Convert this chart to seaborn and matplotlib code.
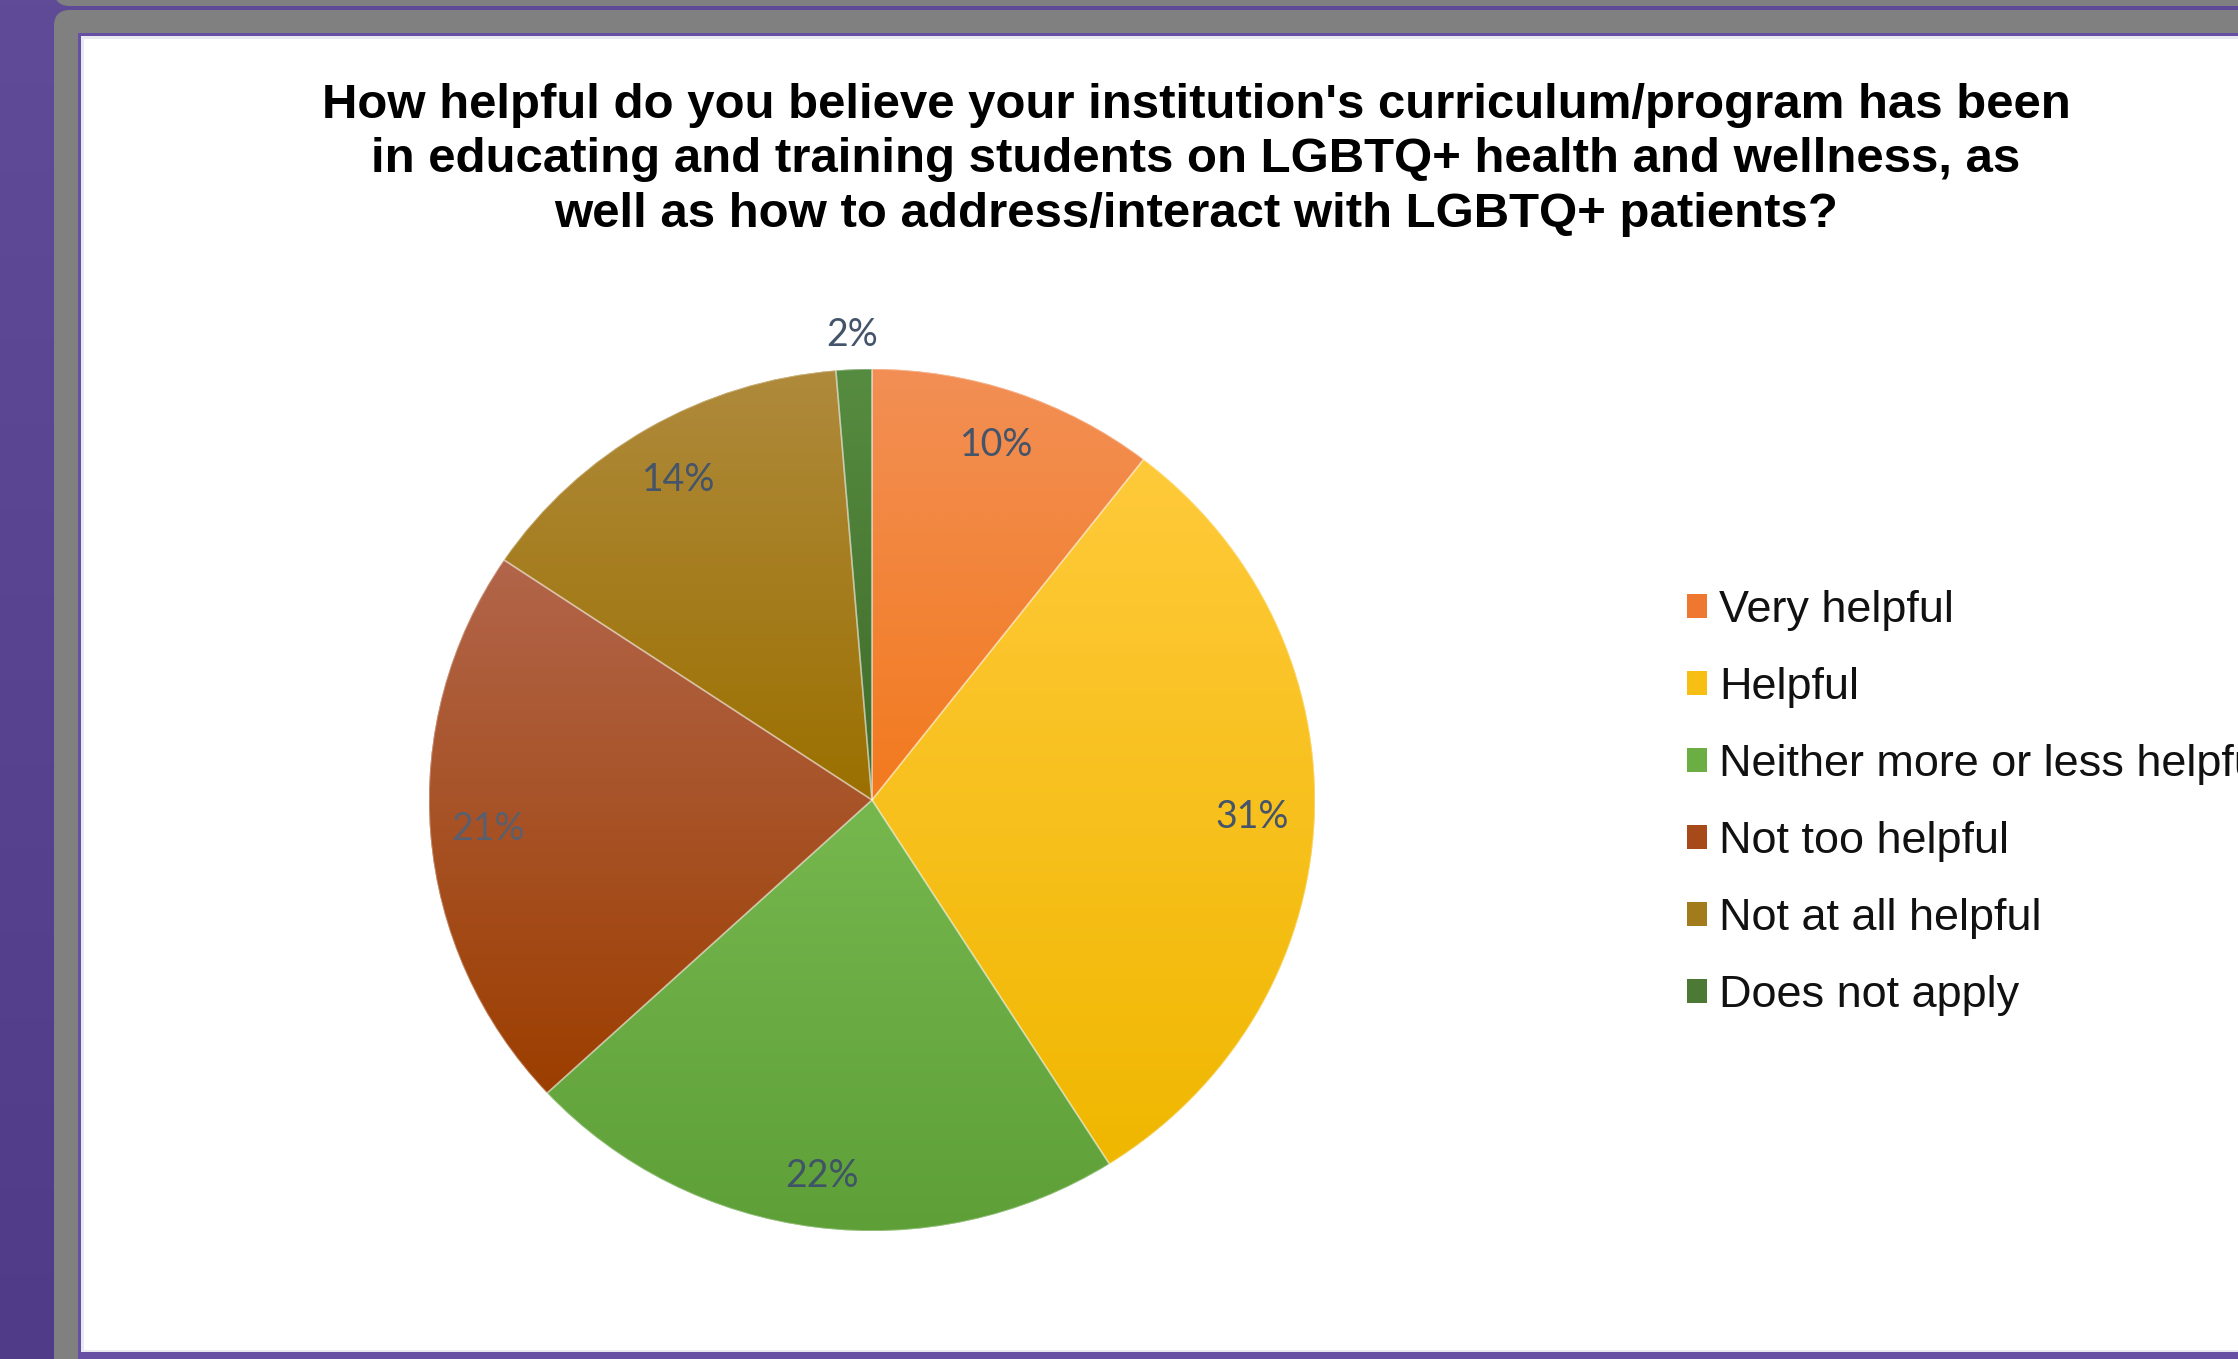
import numpy as np
import matplotlib
matplotlib.use("Agg")
import matplotlib.pyplot as plt
import seaborn as sns
from matplotlib.patches import FancyBboxPatch, Rectangle, Wedge
from matplotlib.colors import LinearSegmentedColormap

# ---------------- data ----------------
categories = ["Very helpful", "Helpful", "Neither more or less helpful",
              "Not too helpful", "Not at all helpful", "Does not apply"]
shares = [10.5, 30.5, 22.1, 21.3, 14.3, 1.3]          # slice sizes
pct_labels = ["10%", "31%", "22%", "21%", "14%", "2%"]  # labels as printed on the chart
title = ("How helpful do you believe your institution's curriculum/program has been\n"
         "in educating and training students on LGBTQ+ health and wellness, as\n"
         "well as how to address/interact with LGBTQ+ patients?")

# ---------------- styles ----------------
top_colors = ["#F28F55", "#FFCA3A", "#76B84E", "#B2654A", "#AF8A3C", "#568C40"]
bottom_colors = ["#F27A1E", "#F0B700", "#5E9F38", "#9C3E00", "#9B7000", "#3F6A2A"]
legend_colors = ["#EE7830", "#F7BE14", "#6AAE44", "#A64A1A", "#A17B1C", "#4C7A34"]

sns.set_theme(style="white")
plt.rcParams["font.family"] = ["Liberation Sans", "DejaVu Sans"]

W, H, DPI = 2238, 1359, 100
fig = plt.figure(figsize=(W / DPI, H / DPI), dpi=DPI)

# ---------------- slide frame ----------------
bg = fig.add_axes([0, 0, 1, 1], zorder=-10)
bg.imshow(np.linspace(0, 1, 256)[:, None], aspect="auto",
          cmap=LinearSegmentedColormap.from_list("bg", ["#5F4B98", "#503B88"]),
          extent=[0, W, H, 0], origin="upper")
bg.add_patch(FancyBboxPatch((54, -40), W + 200, 46, boxstyle="round,pad=0,rounding_size=16",
                            fc="#808080", ec="none"))
bg.add_patch(FancyBboxPatch((54, 10), W + 200, H + 200, boxstyle="round,pad=0,rounding_size=16",
                            fc="#808080", ec="none"))
bg.add_patch(Rectangle((78, 33), W, H, fc="#6750A3", ec="none"))
bg.add_patch(Rectangle((81, 36), W, 1352 - 36, fc="#E9E9F0", ec="none"))
bg.add_patch(Rectangle((84, 39), W, 1350 - 39, fc="white", ec="none"))
bg.set_xlim(0, W)
bg.set_ylim(H, 0)
bg.set_axis_off()

# ---------------- pie ----------------
cx, cy, rx, ry = 872, 800, 443, 431
lim = 1.25
left, right = cx - lim * rx, cx + lim * rx
top, bottom = cy - lim * ry, cy + lim * ry
ax = fig.add_axes([left / W, 1 - bottom / H, (right - left) / W, (bottom - top) / H])
ax.patch.set_alpha(0)

wedges, _ = ax.pie(shares, startangle=90, counterclock=False, colors=legend_colors,
                   wedgeprops=dict(edgecolor="none", linewidth=0))

for w, c0, c1 in zip(wedges, top_colors, bottom_colors):
    th = np.deg2rad(np.linspace(w.theta1, w.theta2, 200))
    xs = np.concatenate([[0], w.r * np.cos(th)])
    ys = np.concatenate([[0], w.r * np.sin(th)])
    img = ax.imshow(np.linspace(0, 1, 256)[:, None], aspect="auto",
                    cmap=LinearSegmentedColormap.from_list("g", [c0, c1]),
                    extent=[xs.min(), xs.max(), ys.min(), ys.max()], origin="upper",
                    zorder=1.5, interpolation="bilinear")
    img.set_clip_path(w)
    ax.add_patch(Wedge(w.center, w.r, w.theta1, w.theta2, fc="none",
                       ec=(1, 1, 1, 0.35), lw=1.2, zorder=2))

label_r = [0.87, 0.86, 0.88, 0.87, 0.86, 1.08]
label_colors = ["#44546A", "#44546A", "#3F5466", "#5A5F6E", "#44546A", "#44546A"]
for w, lab, r, lc in zip(wedges, pct_labels, label_r, label_colors):
    ang = np.deg2rad((w.theta1 + w.theta2) / 2)
    ax.text(r * np.cos(ang), r * np.sin(ang), lab, ha="center", va="center",
            fontsize=27, color=lc, family=["Lato", "DejaVu Sans"], zorder=4)

ax.set_aspect("auto")
ax.set_xlim(-lim, lim)
ax.set_ylim(-lim, lim)
ax.set_axis_off()

# ---------------- title ----------------
fig.text(1196 / W, 1 - 83 / H, title, ha="center", va="top", fontsize=35.4,
         fontweight="bold", linespacing=1.27, color="black", multialignment="center")

# ---------------- legend ----------------
fig.legend(wedges, categories, loc="center left",
           bbox_to_anchor=(1687 / W, 1 - 803 / H), frameon=False, fontsize=32.4,
           handlelength=0.45, handleheight=0.45, handletextpad=0.27,
           labelspacing=0.8, borderpad=0, borderaxespad=0, labelcolor="#111111")

fig.savefig("out.png", dpi=DPI)
